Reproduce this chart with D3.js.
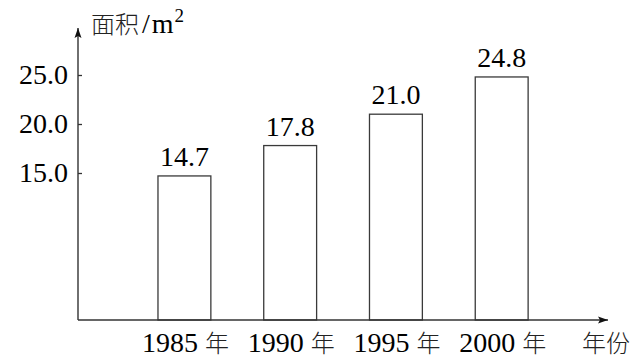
<!DOCTYPE html>
<html>
<head>
<meta charset="utf-8">
<script src="https://cdn.jsdelivr.net/npm/d3@7"></script>
<style>
  html, body { margin: 0; padding: 0; background: #fff; }
  svg { display: block; }
</style>
</head>
<body>
<svg id="chart" width="634" height="358"></svg>
<script>
const categories = ["1985", "1990", "1995", "2000"];
const values = [14.7, 17.8, 21.0, 24.8];
const yTicks = [15.0, 20.0, 25.0];
const yearSuffix = "年";
const xAxisTitle = "年份";
const yAxisTitleCJK = "面积";
const yAxisUnit = ["/", "m", "2"];

const SERIF = "'Liberation Serif', 'Times New Roman', serif";
const CJK = "'Noto Sans CJK SC', 'Noto Sans CJK JP', sans-serif";
const numStyle = s => s.attr("font-family", SERIF).attr("font-size", 28).attr("fill", "#000");
const cjkStyle = s => s.attr("font-family", CJK).attr("font-weight", 300).attr("font-size", 24).attr("fill", "#222");

const svg = d3.select("#chart");
const originX = 78, originY = 320;
const axisColor = "#333";

const x = d3.scaleBand().domain(categories).range([105.1, 581]).paddingInner(0.5).paddingOuter(0.5);
const y = d3.scaleLinear().domain([0, 25]).range([originY, originY - 245]);

svg.append("defs").append("marker")
  .attr("id", "arrow").attr("viewBox", "0 0 10 10").attr("refX", 10).attr("refY", 5)
  .attr("markerWidth", 10).attr("markerHeight", 10).attr("markerUnits", "userSpaceOnUse")
  .attr("orient", "auto")
  .append("path").attr("d", "M0,1.5 L10,5 L0,8.5 L2,5 Z").attr("fill", "#111");

// bars
svg.selectAll("rect.bar").data(values).enter().append("rect")
  .attr("class", "bar")
  .attr("x", (d, i) => x(categories[i]))
  .attr("y", d => y(d))
  .attr("width", x.bandwidth())
  .attr("height", d => originY - y(d))
  .attr("fill", "#fff").attr("stroke", "#3a3a3a").attr("stroke-width", 1.3);

// bar labels
svg.selectAll("text.vlabel").data(values).enter().append("text")
  .attr("class", "vlabel")
  .attr("x", (d, i) => x(categories[i]) + x.bandwidth() / 2)
  .attr("y", d => y(d) - 10)
  .attr("text-anchor", "middle")
  .call(numStyle)
  .text(d => d3.format(".1f")(d));

// axes lines
svg.append("line").attr("x1", originX).attr("y1", originY).attr("x2", 608).attr("y2", originY)
  .attr("stroke", axisColor).attr("stroke-width", 1.4).attr("marker-end", "url(#arrow)");
svg.append("line").attr("x1", originX).attr("y1", originY).attr("x2", originX).attr("y2", 28)
  .attr("stroke", axisColor).attr("stroke-width", 1.4).attr("marker-end", "url(#arrow)");

// y ticks
const yAxis = d3.axisRight(y).tickValues(yTicks).tickSize(4).tickFormat("");
const gy = svg.append("g").attr("transform", `translate(${originX},0)`).call(yAxis);
gy.select(".domain").remove();
gy.selectAll(".tick line").attr("stroke", axisColor).attr("stroke-width", 1.3);
svg.selectAll("text.ytick").data(yTicks).enter().append("text")
  .attr("class", "ytick")
  .attr("x", 68).attr("y", d => y(d) + 9)
  .attr("text-anchor", "end")
  .call(numStyle)
  .text(d => d3.format(".1f")(d));

// x labels
const xl = svg.selectAll("text.xlabel").data(categories).enter().append("text")
  .attr("class", "xlabel")
  .attr("x", d => x(d) + x.bandwidth() / 2 + 1)
  .attr("y", 352)
  .attr("text-anchor", "middle");
xl.append("tspan").call(numStyle).text(d => d + " ");
xl.append("tspan").call(cjkStyle).text(yearSuffix);

svg.append("text").attr("x", 582).attr("y", 352).call(cjkStyle).text(xAxisTitle);

// y title
const yt = svg.append("text").attr("x", 91).attr("y", 33);
yt.append("tspan").call(cjkStyle).text(yAxisTitleCJK);
yt.append("tspan").call(numStyle).attr("dx", 3).text(yAxisUnit[0]);
yt.append("tspan").call(numStyle).attr("dx", 2).text(yAxisUnit[1]);
yt.append("tspan").call(numStyle).attr("font-size", 19).attr("dx", 1).attr("dy", -11).text(yAxisUnit[2]);
</script>
</body>
</html>
